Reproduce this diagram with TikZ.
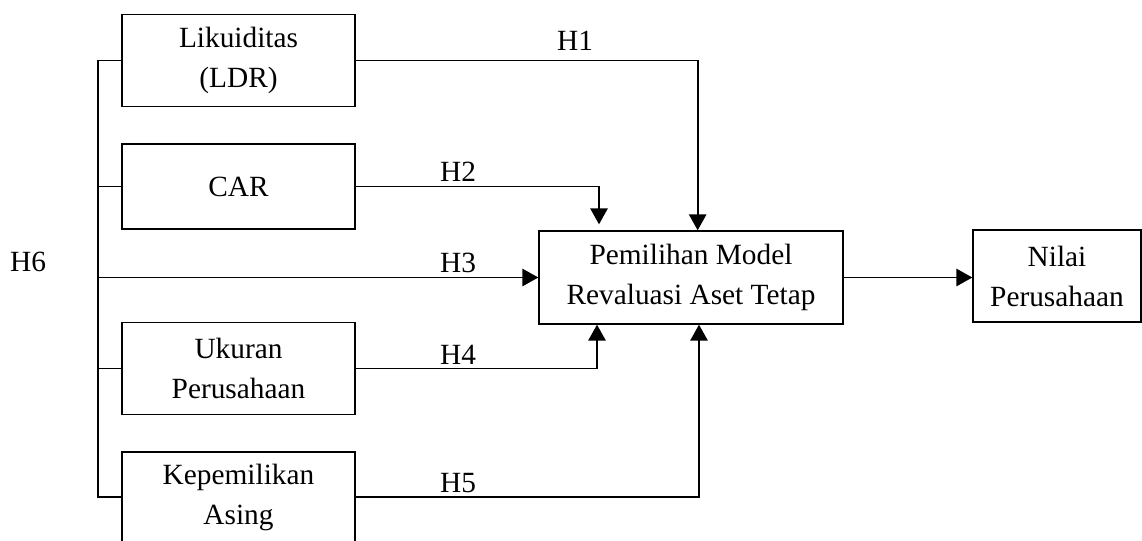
\documentclass[tikz,border=0pt]{standalone}
\usepackage{fontspec}
\setmainfont{Liberation Serif}
\usetikzlibrary{arrows.meta, positioning}

\begin{document}
\begin{tikzpicture}[
      x=0.75pt, y=-0.75pt,
      line width=1pt,
      every node/.style={
         font=\fontsize{22}{30}\selectfont,
         align=center,
         inner sep=2pt
      },
      box/.style={
         draw,
         minimum width=174.75pt,
         minimum height=69pt
      },
      arr/.style={
         -{Triangle[length=12pt,width=13pt]},
         line width=1.4pt
      }
   ]
   \useasboundingbox (0,0) rectangle (1142,541);

   % independent variables
   \node[box] (lik) at (238.5,60.5) {Likuiditas\\(LDR)};
   \node[box, minimum height=63.75pt] (car) at (238.5,186.5) {CAR};
   \node[box] (uk) at (238.5,368.5) {Ukuran\\Perusahaan};
   \node[box, minimum height=67.5pt] (kep) at (238.5,497) {Kepemilikan\\Asing};

   % intervening and dependent variable
   \node[box, minimum width=228pt, minimum height=69.75pt] (model) at (691,277.5)
      {Pemilihan Model\\Revaluasi Aset Tetap};
   \node[box, minimum width=126pt] (nilai) at (1057,276) {Nilai\\Perusahaan};

   % H6 bus on the left
   \coordinate (bus) at (98,277.5);
   \draw (lik.west) -- (lik.west -| bus) |- (kep.west);
   \draw (car.west) -- (car.west -| bus);
   \draw (uk.west) -- (uk.west -| bus);
   \draw[arr] (bus |- model.west) -- (model.west);

   % hypotheses
   \draw[arr] (lik.east) -| ([xshift=5pt]model.north);
   \draw[arr] (car.east) -| ([xshift=-69pt,yshift=4.5pt]model.north);
   \draw[arr] (uk.east) -| ([xshift=-70.5pt]model.south);
   \draw[arr] (kep.east) -| ([xshift=6pt]model.south);
   \draw[arr] (model.east) -- (model.east -| nilai.west);

   \node (h1) at (575,41) {H1};
   \node (h2) at (458,172) {H2};
   \node (h3) at (458,263) {H3};
   \node (h4) at (458,355) {H4};
   \node (h5) at (458,483) {H5};
   \node (h6) at (28,262) {H6};
\end{tikzpicture}
\end{document}
